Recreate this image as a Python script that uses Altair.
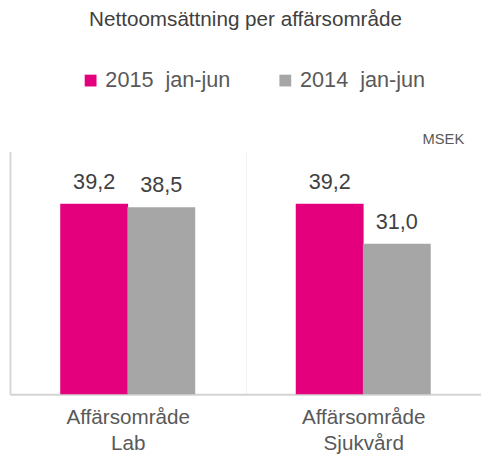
import altair as alt
import pandas as pd

categories = ["Affärsområde Lab", "Affärsområde Sjukvård"]
series = ["2015\u00a0\u00a0jan-jun", "2014\u00a0\u00a0jan-jun"]
values_2015 = [39.2, 39.2]
values_2014 = [38.5, 31.0]
colors = ["#E4007C", "#A6A6A6"]
unit_label = ["MSEK"]

rows = []
for c, v in zip(categories, values_2015):
    rows.append({"cat": c, "series": series[0], "value": v})
for c, v in zip(categories, values_2014):
    rows.append({"cat": c, "series": series[1], "value": v})
df = pd.DataFrame(rows)
df["label"] = df["value"].map(lambda v: f"{v:.1f}".replace(".", ","))

FONT = "Liberation Sans"

x_enc = alt.X(
    "cat:N",
    sort=categories,
    title=None,
    scale=alt.Scale(paddingInner=0, paddingOuter=0),
    axis=alt.Axis(
        labelExpr="split(datum.label, ' ')",
        labelAngle=0,
        labelFontSize=21,
        labelColor="#595959",
        labelFont=FONT,
        labelPadding=13,
        labelLineHeight=26,
        ticks=False,
        grid=True,
        tickBand="extent",
        gridColor={
            "condition": [
                {"test": "datum.index == 0", "value": "#f2f2f2"},
                {"test": "datum.index == 1", "value": "rgba(0,0,0,0)"},
            ],
            "value": "#d6d6d6",
        },
        gridWidth={"condition": {"test": "datum.index == 0", "value": 1}, "value": 2},
        domain=True,
        domainColor="#d3d3d3",
        domainWidth=2,
    ),
)
xoff = alt.XOffset("series:N", sort=series,
                   scale=alt.Scale(paddingInner=0, paddingOuter=0.754))
y_enc = alt.Y("value:Q", scale=alt.Scale(domain=[0, 50]), axis=None)

base = alt.Chart(df).encode(x=x_enc, xOffset=xoff, y=y_enc)

bars = base.mark_bar(size=69).encode(
    color=alt.Color(
        "series:N",
        sort=series,
        scale=alt.Scale(domain=series, range=colors),
        legend=alt.Legend(
            title=None,
            orient="none",
            direction="horizontal",
            legendX=71,
            legendY=-83,
            symbolType="square",
            symbolSize=144,
            symbolStrokeWidth=0,
            labelFontSize=22,
            labelColor="#595959",
            labelFont=FONT,
            labelOffset=4,
            columnPadding=44,
            padding=0,
        ),
    )
)

text = base.mark_text(
    baseline="alphabetic", dy=-15, fontSize=22, color="#404040", font=FONT
).encode(text="label:N")

unit = alt.Chart(pd.DataFrame({"t": unit_label})).mark_text(
    align="right", baseline="alphabetic", fontSize=15, color="#595959", font=FONT
).encode(text="t:N", x=alt.value(462), y=alt.value(-8))

chart = (
    alt.layer(bars, text, unit)
    .properties(
        width=479,
        height=247,
        autosize=alt.AutoSizeParams(type="none"),
        padding={"left": 2, "top": 142, "right": 0, "bottom": 60},
        title=alt.TitleParams(
            "Nettoomsättning per affärsområde",
            anchor="middle",
            fontSize=21,
            fontWeight="normal",
            color="#404040",
            font=FONT,
            offset=40,
        ),
    )
    .configure_view(stroke=None)
)

chart.save("out.html", embed_options={"renderer": "svg", "actions": False})
